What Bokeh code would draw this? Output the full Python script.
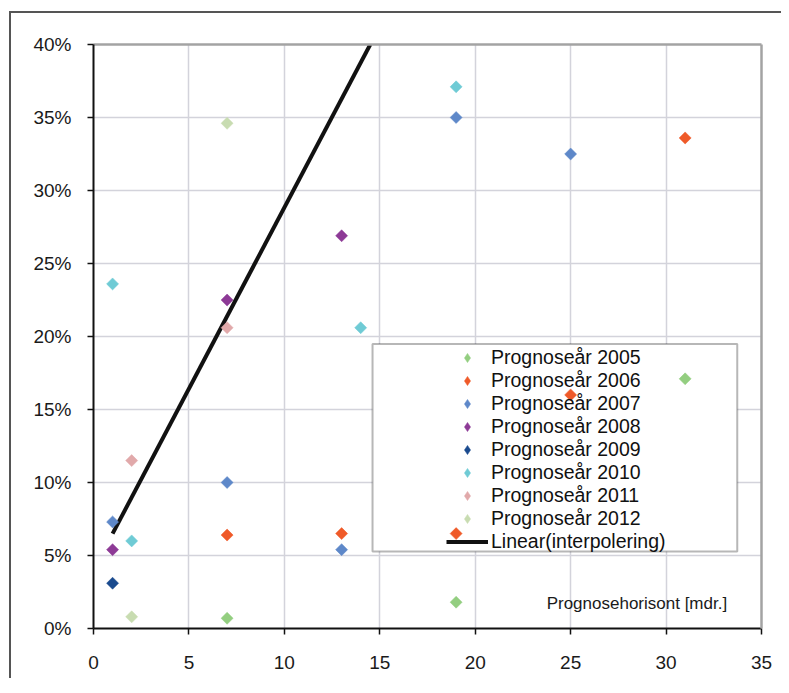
import numpy as np
from bokeh.plotting import figure
from bokeh.models import (Legend, LegendItem, BoxAnnotation, Label, LinearAxis,
                          FixedTicker, NumeralTickFormatter, Range1d)
from bokeh.embed import file_html
from bokeh.resources import INLINE

# ---- data (x: horizon in months, y: share as fraction) ----
series_names = ["Prognoseår 2005", "Prognoseår 2006", "Prognoseår 2007", "Prognoseår 2008",
                "Prognoseår 2009", "Prognoseår 2010", "Prognoseår 2011", "Prognoseår 2012"]
x2005 = [7, 19, 31]
y2005 = [0.007, 0.018, 0.171]
x2006 = [7, 13, 19, 25, 31]
y2006 = [0.064, 0.065, 0.065, 0.160, 0.336]
x2007 = [1, 7, 13, 19, 25]
y2007 = [0.073, 0.100, 0.054, 0.350, 0.325]
x2008 = [1, 7, 13]
y2008 = [0.054, 0.225, 0.269]
x2009 = [1]
y2009 = [0.031]
x2010 = [1, 2, 14, 19]
y2010 = [0.236, 0.060, 0.206, 0.371]
x2011 = [2, 7]
y2011 = [0.115, 0.206]
x2012 = [2, 7]
y2012 = [0.008, 0.346]
trend_x = [1, 14.5]
trend_y = [0.065, 0.40]
trend_name = "Linear(interpolering)"
x_ticks = [0, 5, 10, 15, 20, 25, 30, 35]
y_ticks = [0.0, 0.05, 0.10, 0.15, 0.20, 0.25, 0.30, 0.35, 0.40]
x_title = "Prognosehorisont [mdr.]"

colors = ["#93CE80", "#EF5A29", "#5E88C9", "#8D3A96", "#1A4A8E", "#6FCBD5", "#E1A9AA", "#C8DCB1"]
xs = [x2005, x2006, x2007, x2008, x2009, x2010, x2011, x2012]
ys = [y2005, y2006, y2007, y2008, y2009, y2010, y2011, y2012]

FONT = "Liberation Sans"

p = figure(output_backend="svg", toolbar_location=None,
           x_range=Range1d(0, 35), y_range=Range1d(0, 0.40),
           frame_width=668, frame_height=584,
           min_border_left=82, min_border_top=31, min_border_right=20, min_border_bottom=50)
p.margin = (11, 0, 0, 9)
p.styles = {"border-left": "2px solid #555555", "border-top": "2px solid #555555"}
p.outline_line_color = None
p.background_fill_color = "white"
p.border_fill_color = "white"

# grids
p.xgrid.ticker = FixedTicker(ticks=x_ticks)
p.ygrid.ticker = FixedTicker(ticks=y_ticks)
for g in (p.xgrid, p.ygrid):
    g.grid_line_color = "#d3d3db"
    g.grid_line_width = 1.5

# axes
p.xaxis.ticker = FixedTicker(ticks=x_ticks)
p.yaxis.ticker = FixedTicker(ticks=y_ticks)
p.yaxis.formatter = NumeralTickFormatter(format="0%")
for ax in (p.xaxis[0], p.yaxis[0]):
    ax.axis_line_color = "#111111"
    ax.axis_line_width = 2
    ax.major_tick_line_color = "#111111"
    ax.major_tick_line_width = 1.5
    ax.major_tick_out = 6
    ax.major_tick_in = 0
    ax.minor_tick_line_color = None
    ax.major_label_text_font = FONT
    ax.major_label_text_font_size = "19px"
    ax.major_label_text_color = "#1a1a1a"
p.yaxis.major_label_standoff = 16
p.xaxis.major_label_standoff = 21

# top / right frame lines as bare axes
for side in ("above", "right"):
    a = LinearAxis(ticker=FixedTicker(ticks=[]), axis_line_color="#a3a3a3", axis_line_width=2.5,
                   major_tick_line_color=None, minor_tick_line_color=None,
                   major_label_text_alpha=0)
    p.add_layout(a, side)

# legend box
box = BoxAnnotation(left=14.62, right=33.73, bottom=0.0528, top=0.1949,
                    fill_color="white", fill_alpha=1.0, line_color="#111111", line_width=2)
p.add_layout(box)

# trend line
line_r = p.line(trend_x, trend_y, line_color="#111111", line_width=4)

items = []
for name, c, x, y in zip(series_names, colors, xs, ys):
    p.scatter(x, y, marker="square", angle=np.pi / 4, size=8.5,
              fill_color=c, line_color=c, line_width=0.5, level="overlay")
    # diamond-shaped proxy (not drawn) so the legend shows a diamond
    proxy = p.scatter(x, y, marker="diamond", size=12, fill_color=c, line_color=c,
                      line_width=0.5, visible=False)
    items.append(LegendItem(label=name, renderers=[proxy]))
items.append(LegendItem(label=trend_name, renderers=[line_r]))

legend = Legend(items=items, location=(353, 75), padding=0, spacing=0, margin=0,
                glyph_width=42, glyph_height=23, label_height=23, label_standoff=3,
                label_text_font=FONT, label_text_font_size="19.5px", label_text_color="#111111",
                border_line_alpha=0, background_fill_alpha=0, inactive_fill_alpha=0)
p.add_layout(legend, "center")

p.add_layout(Label(x=33.2, y=0.0172, text=x_title, text_align="right", text_baseline="middle",
                   text_font=FONT, text_font_size="17px", text_color="#1a1a1a"))

open("out.html", "w").write(file_html(p, INLINE))
